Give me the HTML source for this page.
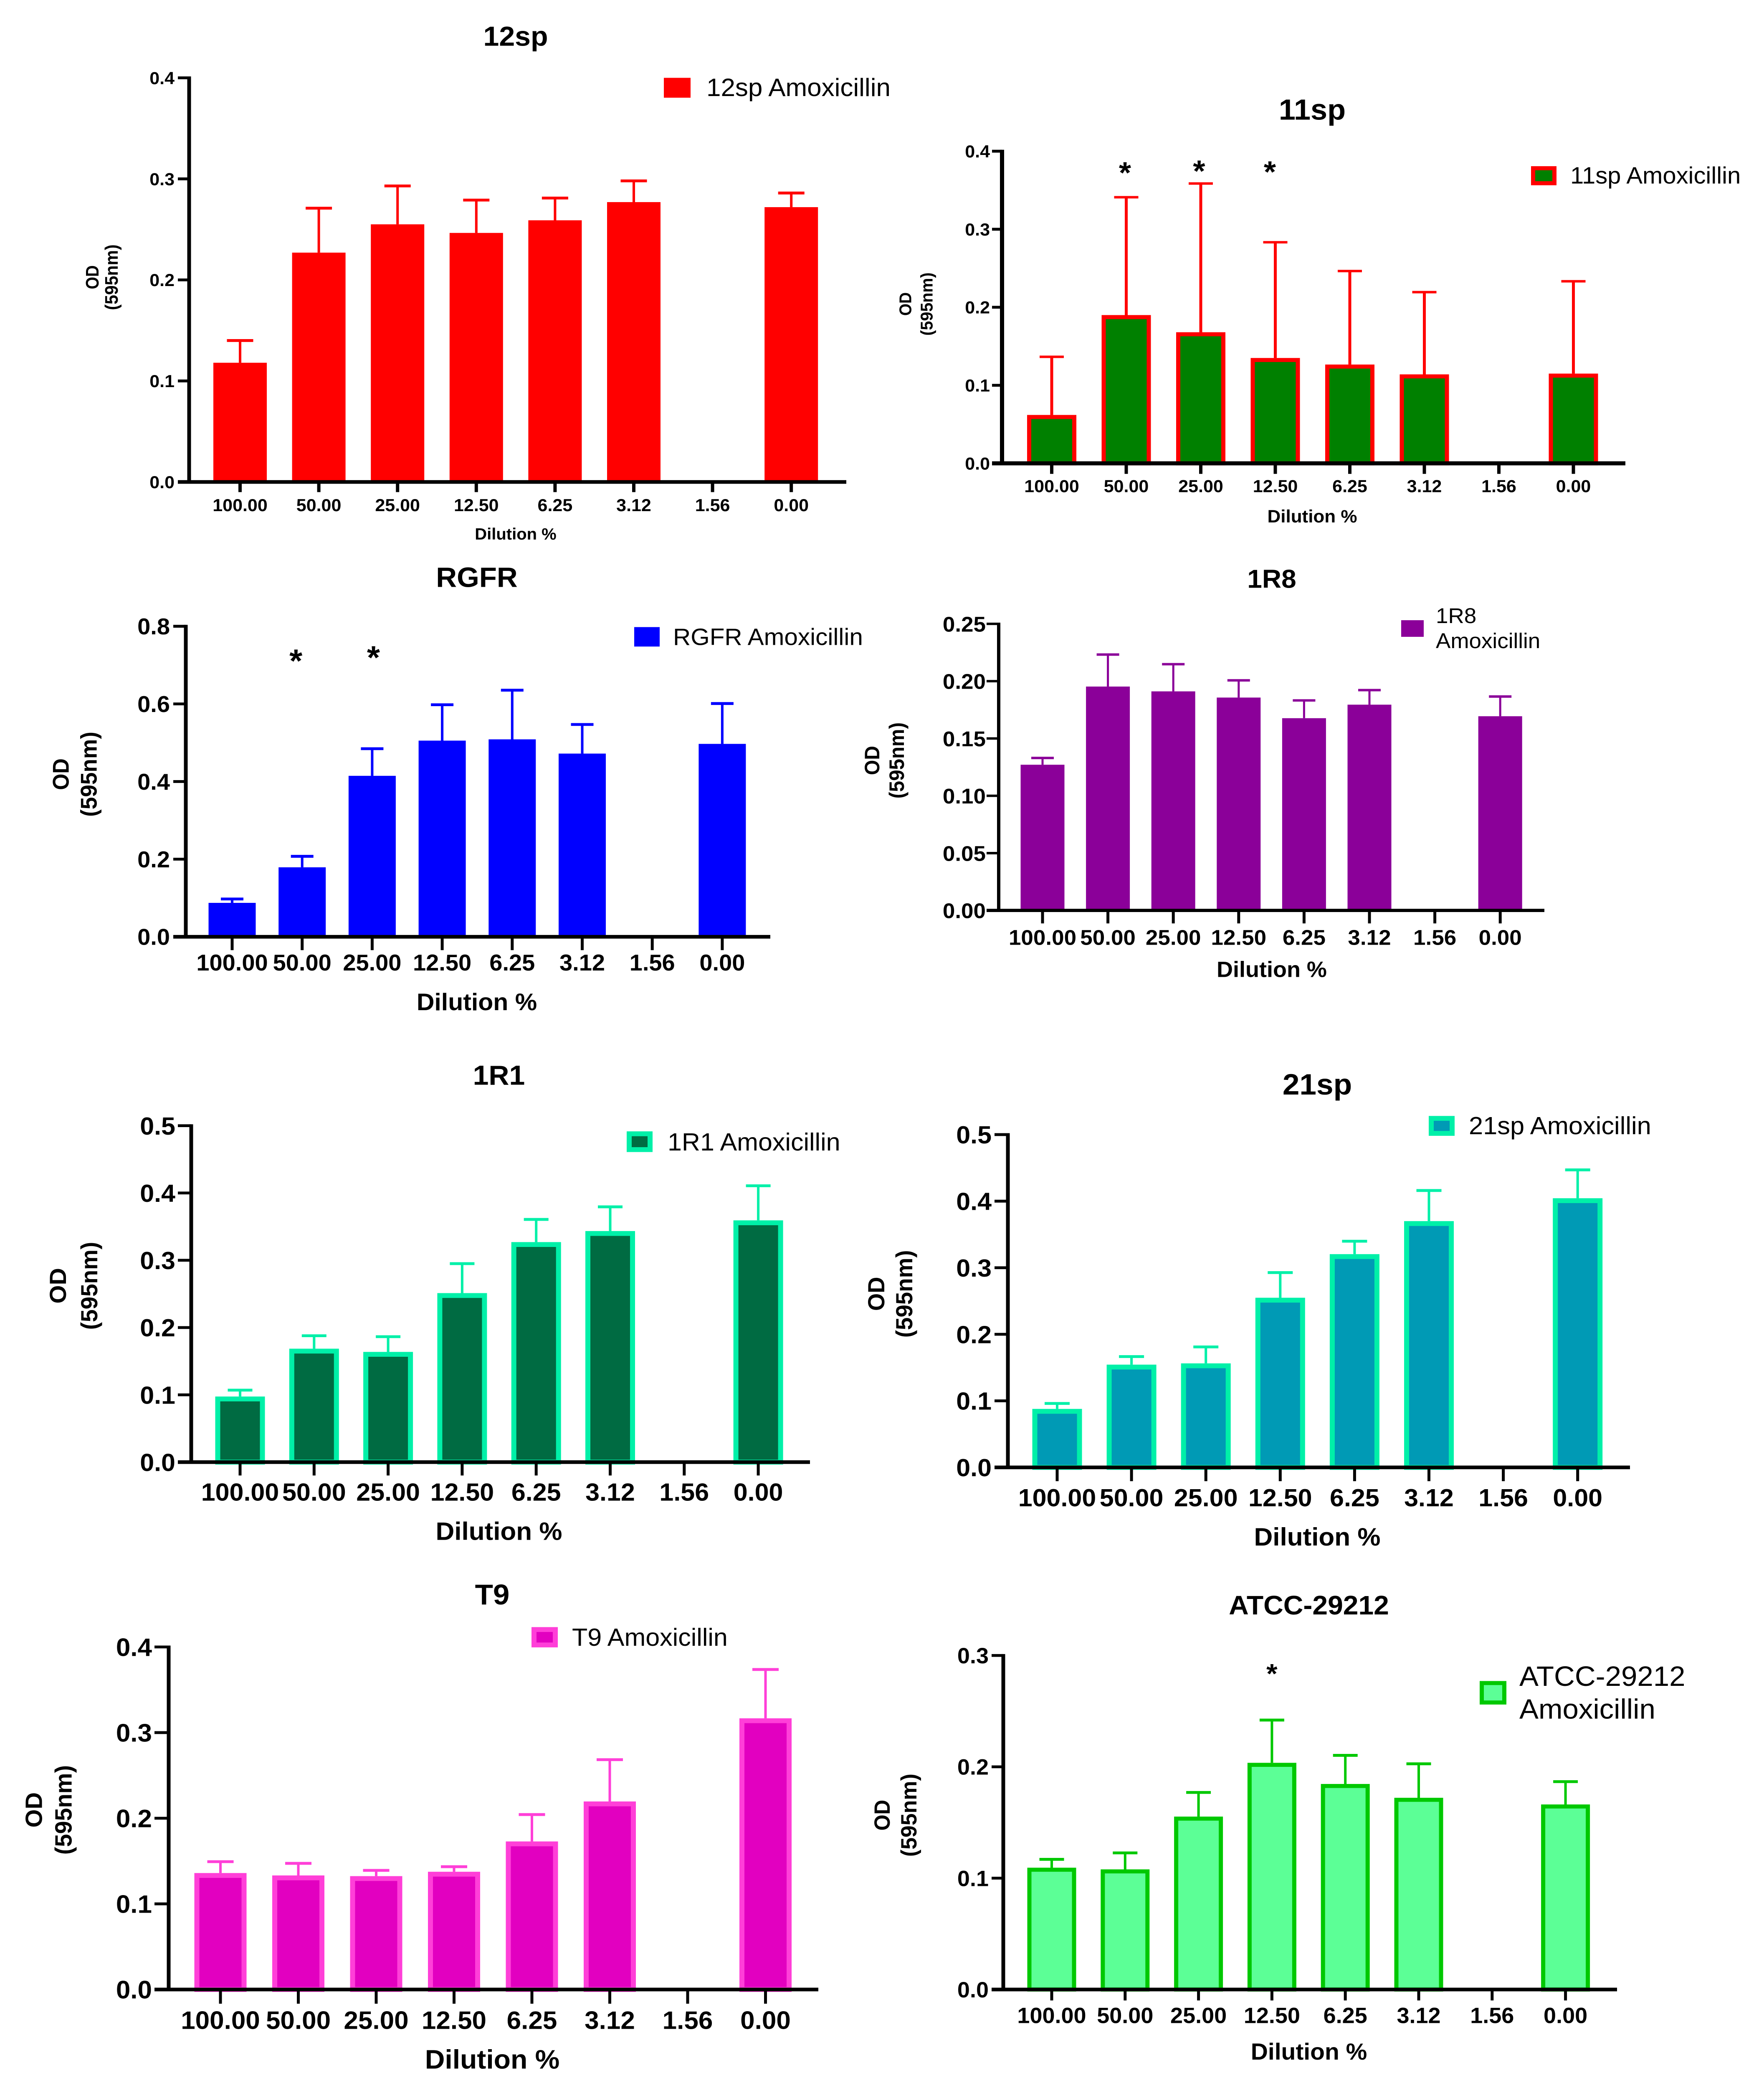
<!DOCTYPE html>
<html lang="en">
<head>
<meta charset="utf-8">
<title>OD at 595nm versus dilution with Amoxicillin</title>
<style>
html,body{margin:0;padding:0;background:#fff;width:100vw;height:100vh;overflow:hidden;}
#figure{display:block;position:absolute;left:0;top:0;width:100vw;height:100vh;background:#fff;}
text{font-family:"Liberation Sans",Arial,sans-serif;fill:#000;}
</style>
</head>
<body>
<svg id="figure" xmlns="http://www.w3.org/2000/svg" viewBox="0 0 4225 5151" preserveAspectRatio="none"></svg>
<script>
const categories = ['100.00','50.00','25.00','12.50','6.25','3.12','1.56','0.00'];

const yTicks12sp = ['0.0','0.1','0.2','0.3','0.4'];
const means12sp = [0.118,0.227,0.255,0.2465,0.259,0.277,null,0.272];
const upper12sp = [0.140,0.271,0.293,0.279,0.281,0.298,null,0.286];

const yTicks11sp = ['0.0','0.1','0.2','0.3','0.4'];
const means11sp = [0.062,0.190,0.168,0.135,0.1266,0.114,null,0.115];
const upper11sp = [0.1365,0.341,0.3586,0.2833,0.2464,0.2194,null,0.2333];
const stars11sp = [null,'*','*','*',null,null,null,null];

const yTicksRgfr = ['0.0','0.2','0.4','0.6','0.8'];
const meansRgfr = [0.0874,0.179,0.4147,0.5054,0.5087,0.472,null,0.497];
const upperRgfr = [0.0974,0.2073,0.4846,0.5978,0.6353,0.547,null,0.601];
const starsRgfr = [null,'*','*',null,null,null,null,null];

const yTicks1r8 = ['0.00','0.05','0.10','0.15','0.20','0.25'];
const means1r8 = [0.1271,0.1953,0.1911,0.1857,0.1677,0.1795,null,0.1694];
const upper1r8 = [0.133,0.2232,0.2148,0.2007,0.1832,0.1922,null,0.1866];

const yTicks1r1 = ['0.0','0.1','0.2','0.3','0.4','0.5'];
const means1r1 = [0.0975,0.1686,0.1638,0.2512,0.327,0.3434,null,0.3593];
const upper1r1 = [0.107,0.1878,0.1864,0.295,0.3607,0.3794,null,0.4107];

const yTicks21sp = ['0.0','0.1','0.2','0.3','0.4','0.5'];
const means21sp = [0.0879,0.1544,0.1563,0.2549,0.3204,0.37,null,0.4044];
const upper21sp = [0.0961,0.1665,0.181,0.2927,0.3398,0.416,null,0.447];

const yTicksT9 = ['0.0','0.1','0.2','0.3','0.4'];
const meansT9 = [0.136,0.1332,0.1324,0.1375,0.1729,0.2196,null,0.3167];
const upperT9 = [0.1493,0.1473,0.1391,0.1434,0.2043,0.2684,null,0.3737];

const yTicksAtcc = ['0.0','0.1','0.2','0.3'];
const meansAtcc = [0.1094,0.1079,0.1553,0.2036,0.1846,0.1722,null,0.1662];
const upperAtcc = [0.1169,0.1227,0.177,0.242,0.2103,0.2027,null,0.1867];
const starsAtcc = [null,null,null,'*',null,null,null,null];

const svg = document.getElementById('figure');
const NS = 'http://www.w3.org/2000/svg';

function make(tag, parent, props) {
  const node = document.createElementNS(NS, tag);
  for (const key in props) node.setAttribute(key, props[key]);
  parent.appendChild(node);
  return node;
}

function drawPanel(c) {
  const g = make('g', svg, {});
  
  

  const yMax = parseFloat(c.yTicks[c.yTicks.length - 1]);
  const yScale = v => c.y0 - (v / yMax) * (c.y0 - c.yTop);
  const xScale = i => c.xFirst + i * c.xStep;

  const title = make('text', g, {x: c.titleX, y: c.titleY, 'font-size': c.titleSize, 'font-weight': 'bold', 'text-anchor': 'middle'});
  title.textContent = c.title;
  
  

  c.means.forEach((m, i) => {
    if (m === null) return;
    const cx = xScale(i);
    const top = yScale(m);
    const upTop = yScale(c.upper[i]);

    const stem = make('line', g, {x1: cx, x2: cx, y1: top, y2: upTop, stroke: c.errColor, 'stroke-width': c.stemW});
    
    

    const cap = make('line', g, {x1: cx - c.capW / 2, x2: cx + c.capW / 2, y1: upTop, y2: upTop, stroke: c.errColor, 'stroke-width': c.capH});
    
    

    const b = c.border;
    const bar = make('rect', g, {
      x: cx - c.barW / 2 + b / 2,
      y: top + b / 2,
      width: c.barW - b,
      height: Math.max(0, c.y0 - top - b / 2),
      fill: c.fill
    });
    if (b > 0) {
      bar.setAttribute('stroke', c.stroke);
      bar.setAttribute('stroke-width', b);
    }
    
    
  });

  if (c.stars) {
    c.stars.forEach((s, i) => {
      if (!s) return;
      const star = make('text', g, {x: xScale(i) + c.starDx[i], y: c.starY[i] + 0.58 * c.starSize, 'font-size': c.starSize, 'font-weight': 'bold', 'text-anchor': 'middle'});
      star.textContent = s;
      
      
    });
  }

  const yAxis = make('line', g, {x1: c.x0, x2: c.x0, y1: c.yTop - c.tickW / 2, y2: c.y0, stroke: '#000', 'stroke-width': c.axisW});
  
  

  const xAxis = make('line', g, {x1: c.tickLeft, x2: c.xRight, y1: c.y0, y2: c.y0, stroke: '#000', 'stroke-width': c.axisW});
  
  

  c.yTicks.forEach(t => {
    const yy = yScale(parseFloat(t));
    const tick = make('line', g, {x1: c.tickLeft, x2: c.x0, y1: yy, y2: yy, stroke: '#000', 'stroke-width': c.tickW});
    
    
    const lab = make('text', g, {x: c.yLabelRight, y: yy + 0.358 * c.tickSize, 'font-size': c.tickSize, 'font-weight': 'bold', 'text-anchor': 'end'});
    lab.textContent = t;
    
    
  });

  categories.forEach((cat, i) => {
    const cx = xScale(i);
    const tick = make('line', g, {x1: cx, x2: cx, y1: c.y0, y2: c.xTickBottom, stroke: '#000', 'stroke-width': c.xTickW});
    
    
    const lab = make('text', g, {x: cx, y: c.xLabelY, 'font-size': c.tickSize, 'font-weight': 'bold', 'text-anchor': 'middle'});
    lab.textContent = cat;
    
    
  });

  const xTitle = make('text', g, {x: c.titleX, y: c.xTitleY, 'font-size': c.xTitleSize, 'font-weight': 'bold', 'text-anchor': 'middle'});
  xTitle.textContent = 'Dilution %';
  
  

  const yl = c.yLabel;
  const odX = yl.odX + 0.358 * yl.size;
  const nmX = yl.nmX + 0.358 * yl.size;
  const od = make('text', g, {transform: 'translate(' + odX + ',' + yl.cy + ') rotate(-90)', 'font-size': yl.size, 'font-weight': 'bold', 'text-anchor': 'middle', textLength: yl.odLen, lengthAdjust: 'spacingAndGlyphs'});
  od.textContent = 'OD';
  
  
  const nm = make('text', g, {transform: 'translate(' + nmX + ',' + yl.cy + ') rotate(-90)', 'font-size': yl.size, 'font-weight': 'bold', 'text-anchor': 'middle', textLength: yl.nmLen, lengthAdjust: 'spacingAndGlyphs'});
  nm.textContent = '(595nm)';
  
  

  const lg = c.legend;
  const box = make('rect', g, {x: lg.x + c.border / 2, y: lg.y + c.border / 2, width: lg.w - c.border, height: lg.h - c.border, fill: c.fill});
  if (c.border > 0) {
    box.setAttribute('stroke', c.stroke);
    box.setAttribute('stroke-width', c.border);
  }
  
  
  lg.lines.forEach(l => {
    const t = make('text', g, {x: lg.textX, y: l[1], 'font-size': lg.size});
    t.textContent = l[0];
    
    
  });
}

drawPanel({key:'12sp', title:'12sp', titleX:1235, titleY:113, titleSize:68,
  means:means12sp, upper:upper12sp, yTicks:yTicks12sp,
  x0:453, y0:1189, yTop:192, tickLeft:426, xRight:2027, xFirst:575, xStep:188.6, barW:128, border:0,
  fill:'#ff0000', errColor:'#ff0000', stemW:6, capW:63, capH:7,
  axisW:9, tickW:7, xTickW:8, xTickBottom:1214, tickSize:43, yLabelRight:418, xLabelY:1261,
  xTitleY:1331, xTitleSize:40,
  yLabel:{odX:220, nmX:266, cy:684, size:44, odLen:59, nmLen:162},
  legend:{x:1590, y:192, w:64, h:49, textX:1692, size:62, lines:[['12sp Amoxicillin',237]]}});

drawPanel({key:'11sp', title:'11sp', titleX:3143, titleY:295, titleSize:72,
  means:means11sp, upper:upper11sp, yTicks:yTicks11sp,
  x0:2400, y0:1143, yTop:373, tickLeft:2376, xRight:3893, xFirst:2519, xStep:178.5, barW:118, border:10,
  fill:'#008000', stroke:'#ff0000', errColor:'#ff0000', stemW:7, capW:58, capH:6,
  axisW:10, tickW:7, xTickW:8, xTickBottom:1169, tickSize:43, yLabelRight:2371, xLabelY:1214,
  xTitleY:1289, xTitleSize:44,
  stars:stars11sp, starSize:75, starY:[0,408,404,406,0,0,0,0], starDx:[0,-3,-4,-13,0,0,0,0],
  yLabel:{odX:2168, nmX:2219, cy:750, size:41, odLen:58, nmLen:156},
  legend:{x:3667, y:410, w:61, h:47, textX:3761, size:58, lines:[['11sp Amoxicillin',453]]}});

drawPanel({key:'rgfr', title:'RGFR', titleX:1142, titleY:1448, titleSize:69,
  means:meansRgfr, upper:upperRgfr, yTicks:yTicksRgfr,
  x0:445, y0:2311, yTop:1545, tickLeft:415, xRight:1845, xFirst:556, xStep:167.7, barW:113, border:0,
  fill:'#0000ff', errColor:'#0000ff', stemW:6, capW:54, capH:7,
  axisW:9, tickW:7, xTickW:7, xTickBottom:2344, tickSize:56, yLabelRight:407, xLabelY:2394,
  xTitleY:2492, xTitleSize:59,
  stars:starsRgfr, starSize:80, starY:[0,1611,1603,0,0,0,0,0], starDx:[0,-15,3,0,0,0,0,0],
  yLabel:{odX:145, nmX:212, cy:1910, size:55, odLen:78, nmLen:210},
  legend:{x:1519, y:1547, w:61, h:48, textX:1612, size:58.5, lines:[['RGFR Amoxicillin',1591]]}});

drawPanel({key:'1r8', title:'1R8', titleX:3046, titleY:1450, titleSize:64,
  means:means1r8, upper:upper1r8, yTicks:yTicks1r8,
  x0:2392, y0:2246, yTop:1539, tickLeft:2363, xRight:3699, xFirst:2497, xStep:156.6, barW:105, border:0,
  fill:'#8b0099', errColor:'#8b0099', stemW:5, capW:54, capH:6,
  axisW:8, tickW:6, xTickW:7, xTickBottom:2278, tickSize:53, yLabelRight:2361, xLabelY:2331,
  xTitleY:2410, xTitleSize:54,
  yLabel:{odX:2088, nmX:2147, cy:1876, size:50, odLen:72, nmLen:188},
  legend:{x:3356, y:1530, w:54, h:41, textX:3439, size:53, lines:[['1R8',1537],['Amoxicillin',1599]]}});

drawPanel({key:'1r1', title:'1R1', titleX:1195, titleY:2676, titleSize:68,
  means:means1r1, upper:upper1r1, yTicks:yTicks1r1,
  x0:458, y0:3607, yTop:2777, tickLeft:426, xRight:1940, xFirst:575, xStep:177.3, barW:119, border:12,
  fill:'#006b42', stroke:'#00f0a8', errColor:'#00f0a8', stemW:6, capW:59, capH:7,
  axisW:9, tickW:7, xTickW:7, xTickBottom:3640, tickSize:61, yLabelRight:420, xLabelY:3702,
  xTitleY:3799, xTitleSize:62,
  yLabel:{odX:138, nmX:213, cy:3172, size:56, odLen:88, nmLen:217},
  legend:{x:1501, y:2791, w:62, h:51, textX:1599, size:61, lines:[['1R1 Amoxicillin',2838]]}});

drawPanel({key:'21sp', title:'21sp', titleX:3155, titleY:2700, titleSize:73,
  means:means21sp, upper:upper21sp, yTicks:yTicks21sp,
  x0:2414, y0:3620, yTop:2799, tickLeft:2382, xRight:3904, xFirst:2532, xStep:178.1, barW:119, border:12,
  fill:'#009ab5', stroke:'#00f0a8', errColor:'#00f0a8', stemW:6, capW:60, capH:7,
  axisW:9, tickW:7, xTickW:7, xTickBottom:3654, tickSize:61, yLabelRight:2375, xLabelY:3716,
  xTitleY:3813, xTitleSize:62,
  yLabel:{odX:2098, nmX:2165, cy:3192, size:56, odLen:84, nmLen:216},
  legend:{x:3422, y:2753, w:62, h:49, textX:3518, size:61.4, lines:[['21sp Amoxicillin',2798]]}});

drawPanel({key:'t9', title:'T9', titleX:1179, titleY:3958, titleSize:71,
  means:meansT9, upper:upperT9, yTicks:yTicksT9,
  x0:404, y0:4908, yTop:4063, tickLeft:370, xRight:1960, xFirst:528, xStep:186.5, barW:125, border:12,
  fill:'#e200c0', stroke:'#ff3fd8', errColor:'#ff3fd8', stemW:6, capW:63, capH:7,
  axisW:9, tickW:7, xTickW:7, xTickBottom:4943, tickSize:62, yLabelRight:364, xLabelY:5005,
  xTitleY:5103, xTitleSize:66,
  yLabel:{odX:80, nmX:151, cy:4465, size:57, odLen:87, nmLen:221},
  legend:{x:1273, y:4014, w:63, h:50, textX:1370, size:61, lines:[['T9 Amoxicillin',4060]]}});

drawPanel({key:'atcc-29212', title:'ATCC-29212', titleX:3135, titleY:3983, titleSize:66,
  means:meansAtcc, upper:upperAtcc, yTicks:yTicksAtcc,
  x0:2403, y0:4908, yTop:4084, tickLeft:2375, xRight:3873, xFirst:2519, xStep:175.8, barW:117, border:10,
  fill:'#5cff96', stroke:'#00c800', errColor:'#00c800', stemW:6, capW:59, capH:7,
  axisW:9, tickW:7, xTickW:7, xTickBottom:4935, tickSize:54, yLabelRight:2368, xLabelY:4991,
  xTitleY:5081, xTitleSize:57,
  stars:starsAtcc, starSize:68, starY:[0,0,0,4113,0,0,0,0], starDx:[0,0,0,0,0,0,0,0],
  yLabel:{odX:2112, nmX:2176, cy:4478, size:53, odLen:76, nmLen:205},
  legend:{x:3544, y:4147, w:64, h:58, textX:3639, size:69, lines:[['ATCC-29212',4159],['Amoxicillin',4240]]}});
</script>
</body>
</html>
